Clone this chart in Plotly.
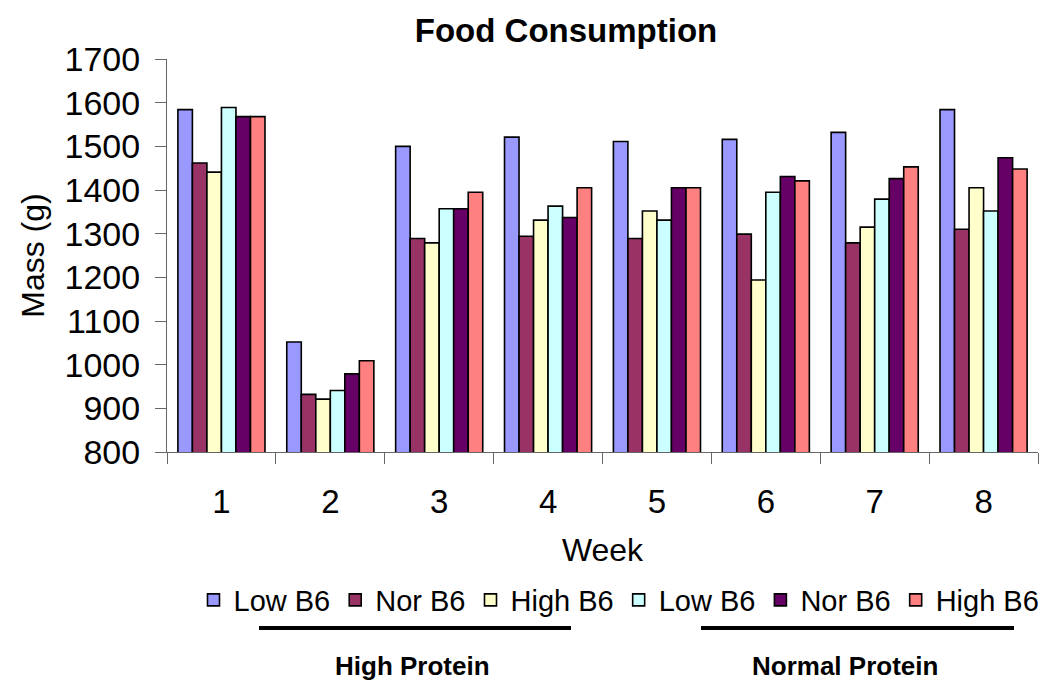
import plotly.graph_objects as go

weeks = ["1", "2", "3", "4", "5", "6", "7", "8"]
series_names = ["Low B6", "Nor B6", "High B6", "Low B6", "Nor B6", "High B6"]
colors = ["#9999FF", "#993366", "#FFFFCC", "#CCFFFF", "#660066", "#FF8080"]

# High protein diet groups
hp_low_b6 = [1584, 1052, 1500, 1521, 1511, 1516, 1532, 1584]
hp_nor_b6 = [1462, 932, 1289, 1294, 1289, 1299, 1279, 1310]
hp_high_b6 = [1441, 921, 1279, 1331, 1352, 1194, 1315, 1405]
# Normal protein diet groups
np_low_b6 = [1589, 941, 1357, 1363, 1331, 1395, 1379, 1352]
np_nor_b6 = [1568, 979, 1357, 1337, 1405, 1431, 1426, 1474]
np_high_b6 = [1568, 1009, 1395, 1405, 1405, 1421, 1453, 1448]

series_values = [hp_low_b6, hp_nor_b6, hp_high_b6, np_low_b6, np_nor_b6, np_high_b6]

W, H = 1055, 682
L, R, T, B = 167, 17, 59, 230
PW, PH = W - L - R, H - T - B


def px_x(x):
    return (x - L) / PW


def px_y(y):
    return (H - B - y) / PH


FONT = "Liberation Sans, Arial, sans-serif"

fig = go.Figure()
for name, vals, col in zip(series_names, series_values, colors):
    fig.add_trace(go.Bar(
        x=weeks, y=vals, name=name,
        marker=dict(color=col, line=dict(color="black", width=1.6)),
    ))

fig.update_layout(
    width=W, height=H,
    margin=dict(l=L, r=R, t=T, b=B, pad=0, autoexpand=False),
    paper_bgcolor="white", plot_bgcolor="white",
    barmode="group", bargap=0.2, bargroupgap=0,
    font=dict(family=FONT, color="black"),
    title=dict(text="<b>Food Consumption</b>", font=dict(size=33, family=FONT),
               x=px_x(566), xref="paper", xanchor="center",
               y=1 - 30 / H, yref="container", yanchor="middle"),
    legend=dict(orientation="h", x=px_x(619), xanchor="center",
                y=px_y(600), yanchor="middle", font=dict(size=29, family=FONT),
                itemwidth=30, tracegroupgap=0, bgcolor="rgba(0,0,0,0)"),
    showlegend=True,
)

fig.update_xaxes(
    type="category", showgrid=False, showline=True, linecolor="#666666", linewidth=1,
    ticks="outside", tickson="boundaries", ticklen=11, tickcolor="#666666",
    tickfont=dict(size=33, family=FONT), ticklabelstandoff=20,
    title=dict(text="Week", font=dict(size=32, family=FONT), standoff=20),
)
fig.update_yaxes(
    range=[800, 1700], dtick=100, showgrid=False, zeroline=False,
    showline=True, linecolor="#666666", linewidth=1,
    ticks="outside", ticklen=11, tickcolor="#666666",
    tickfont=dict(size=34, family=FONT), ticklabelstandoff=8,
    title=dict(text="Mass (g)", font=dict(size=32, family=FONT), standoff=10),
)

# group bars under the legend
for x0, x1 in [(259, 571), (701, 1014)]:
    fig.add_shape(type="line", xref="paper", yref="paper",
                  x0=px_x(x0), x1=px_x(x1), y0=px_y(628), y1=px_y(628),
                  line=dict(color="black", width=4))

for text, xc in [("High Protein", 412), ("Normal Protein", 845)]:
    fig.add_annotation(text=f"<b>{text}</b>", xref="paper", yref="paper",
                       x=px_x(xc), y=px_y(666), xanchor="center", yanchor="middle",
                       showarrow=False, font=dict(size=26, family=FONT))

fig.write_html("out.html")
